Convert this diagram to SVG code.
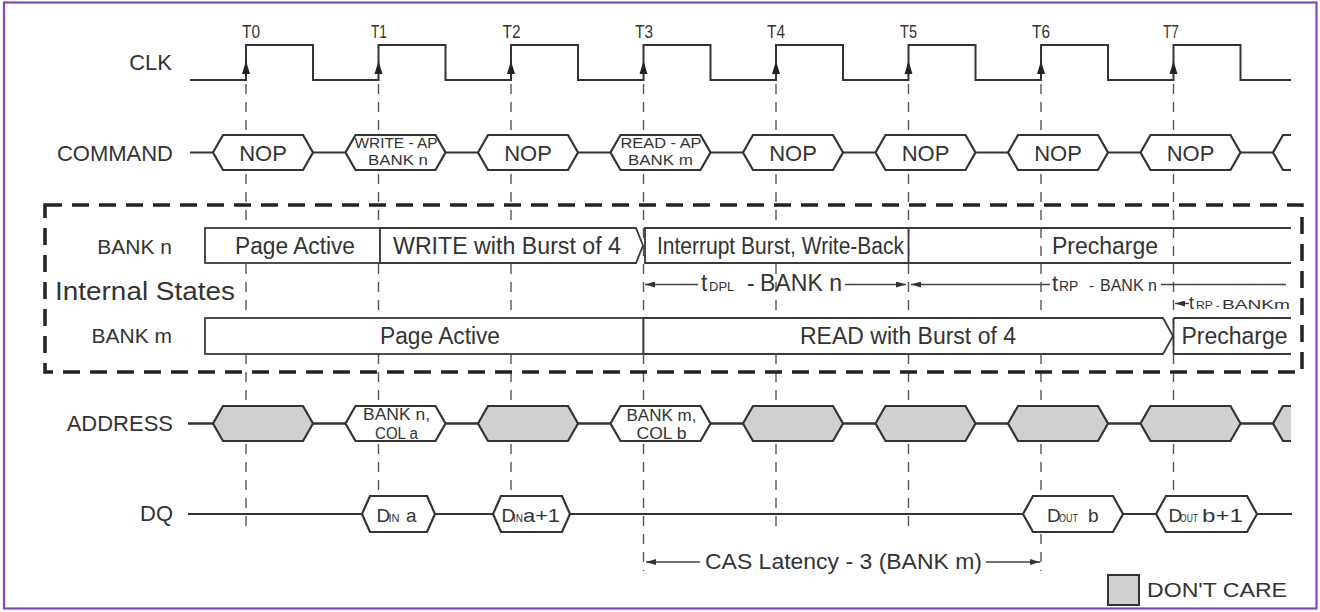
<svg xmlns="http://www.w3.org/2000/svg" width="1320" height="612" viewBox="0 0 1320 612">
<defs>
<style>
text{font-family:"Liberation Sans",Arial,sans-serif;fill:#333}
.sig{fill:none;stroke:#333;stroke-width:2}
.hex{fill:#fff;stroke:#333;stroke-width:2.2;stroke-linejoin:miter}
.hexg{fill:#d0d0d0;stroke:#333;stroke-width:2.2}
.grid{stroke:#555;stroke-width:1.4;stroke-dasharray:10 8;fill:none}
.box{fill:#fff;stroke:#3a3a3a;stroke-width:1.8}
.ln{fill:none;stroke:#3a3a3a;stroke-width:1.8}
.tline{fill:none;stroke:#444;stroke-width:1.4}
.lbl{font-size:22px;text-anchor:end}
.st{font-size:23px}
.tl{font-size:19px;text-anchor:middle}
.clkarr{fill:#222}
</style>
<marker id="arr" viewBox="0 0 10 6" refX="10" refY="3" markerWidth="10" markerHeight="6" markerUnits="userSpaceOnUse" orient="auto-start-reverse">
<path d="M0,0 L10,3 L0,6 Z" fill="#333"/>
</marker>
</defs>
<rect x="0" y="0" width="1320" height="612" fill="#fff"/>
<rect x="4" y="2.5" width="1312.5" height="606" fill="none" stroke="#8244c0" stroke-width="2.2"/>

<g id="gridlines">
<line class="grid" x1="246" y1="84" x2="246" y2="533"/>
<line class="grid" x1="378.5" y1="84" x2="378.5" y2="533"/>
<line class="grid" x1="511" y1="84" x2="511" y2="533"/>
<line class="grid" x1="643.5" y1="84" x2="643.5" y2="571"/>
<line class="grid" x1="776" y1="84" x2="776" y2="533"/>
<line class="grid" x1="908.5" y1="84" x2="908.5" y2="533"/>
<line class="grid" x1="1041" y1="84" x2="1041" y2="571"/>
<line class="grid" x1="1173.5" y1="84" x2="1173.5" y2="533"/>
</g>

<g id="labels">
<text class="lbl" x="172" y="70">CLK</text>
<text class="lbl" x="173" y="161">COMMAND</text>
<text class="lbl" x="172" y="254" style="font-size:21px">BANK n</text>
<text x="55" y="300" style="font-size:26px" textLength="180" lengthAdjust="spacingAndGlyphs">Internal States</text>
<text class="lbl" x="172" y="343" style="font-size:21px">BANK m</text>
<text class="lbl" x="173" y="431">ADDRESS</text>
<text class="lbl" x="173" y="521">DQ</text>
</g>

<g id="clk">
<path class="sig" d="M190,80 H246 V45 H313 V80 H378.5 V45 H445.5 V80 H511 V45 H578 V80 H643.5 V45 H710.5 V80 H776 V45 H843 V80 H908.5 V45 H975.5 V80 H1041 V45 H1108 V80 H1173.5 V45 H1240.5 V80 H1291"/>
<path class="clkarr" d="M246,61 L250,74 L242,74 Z M378.5,61 L382.5,74 L374.5,74 Z M511,61 L515,74 L507,74 Z M643.5,61 L647.5,74 L639.5,74 Z M776,61 L780,74 L772,74 Z M908.5,61 L912.5,74 L904.5,74 Z M1041,61 L1045,74 L1037,74 Z M1173.5,61 L1177.5,74 L1169.5,74 Z"/>
<text class="tl" x="251" y="38" textLength="18" lengthAdjust="spacingAndGlyphs">T0</text>
<text class="tl" x="379" y="38" textLength="16" lengthAdjust="spacingAndGlyphs">T1</text>
<text class="tl" x="511.5" y="38" textLength="18" lengthAdjust="spacingAndGlyphs">T2</text>
<text class="tl" x="644" y="38" textLength="18" lengthAdjust="spacingAndGlyphs">T3</text>
<text class="tl" x="776" y="38" textLength="18" lengthAdjust="spacingAndGlyphs">T4</text>
<text class="tl" x="908.5" y="38" textLength="17" lengthAdjust="spacingAndGlyphs">T5</text>
<text class="tl" x="1041" y="38" textLength="18" lengthAdjust="spacingAndGlyphs">T6</text>
<text class="tl" x="1171" y="38" textLength="16" lengthAdjust="spacingAndGlyphs">T7</text>
</g>

<g id="command">
<line class="sig" x1="190" y1="152.5" x2="1273" y2="152.5"/>
<path class="hex" d="M213,152.5 L223,135 H303 L313,152.5 L303,170 H223 Z"/>
<path class="hex" d="M345.5,152.5 L355.5,135 H435.5 L445.5,152.5 L435.5,170 H355.5 Z"/>
<path class="hex" d="M478,152.5 L488,135 H568 L578,152.5 L568,170 H488 Z"/>
<path class="hex" d="M610.5,152.5 L620.5,135 H700.5 L710.5,152.5 L700.5,170 H620.5 Z"/>
<path class="hex" d="M743,152.5 L753,135 H833 L843,152.5 L833,170 H753 Z"/>
<path class="hex" d="M875.5,152.5 L885.5,135 H965.5 L975.5,152.5 L965.5,170 H885.5 Z"/>
<path class="hex" d="M1008,152.5 L1018,135 H1098 L1108,152.5 L1098,170 H1018 Z"/>
<path class="hex" d="M1140.5,152.5 L1150.5,135 H1230.5 L1240.5,152.5 L1230.5,170 H1150.5 Z"/>
<path class="hex" d="M1291,135 H1283 L1273,152.5 L1283,170 H1291"/>
<g style="font-size:22px" text-anchor="middle">
<text x="263" y="160.5">NOP</text>
<text x="528" y="160.5">NOP</text>
<text x="793" y="160.5">NOP</text>
<text x="925.5" y="160.5">NOP</text>
<text x="1058" y="160.5">NOP</text>
<text x="1190.5" y="160.5">NOP</text>
</g>
<g style="font-size:15px" text-anchor="middle">
<text x="396" y="148" textLength="83" lengthAdjust="spacingAndGlyphs">WRITE - AP</text>
<text x="398" y="165" textLength="60" lengthAdjust="spacingAndGlyphs">BANK n</text>
<text x="661" y="148" textLength="81" lengthAdjust="spacingAndGlyphs">READ - AP</text>
<text x="660.5" y="165" textLength="65" lengthAdjust="spacingAndGlyphs">BANK m</text>
</g>
</g>

<g id="internal-states">
<rect x="45" y="205" width="1257" height="167" fill="none" stroke="#222" stroke-width="3.5" stroke-dasharray="17 10"/>
</g>

<g id="bank-n">
<rect class="box" x="205" y="228" width="175" height="35"/>
<path class="box" d="M380,228 H636 L643,245.5 L636,263 H380 Z"/>
<path class="box" d="M645,228 H908.5 V263 H645 Z"/>
<path class="ln" d="M908.5,228 H1291 M908.5,263 H1291"/>
<text class="st" x="295" y="254" text-anchor="middle" textLength="120" lengthAdjust="spacingAndGlyphs">Page Active</text>
<text class="st" x="393" y="254" textLength="228" lengthAdjust="spacingAndGlyphs">WRITE with Burst of 4</text>
<text class="st" x="657" y="254" textLength="247" lengthAdjust="spacingAndGlyphs">Interrupt Burst, Write-Back</text>
<text class="st" x="1105" y="254" text-anchor="middle">Precharge</text>
</g>

<g id="bank-m">
<rect class="box" x="205" y="318" width="438.5" height="36"/>
<path class="box" d="M643.5,318 H1163 L1173,336 L1163,354 H643.5 Z"/>
<path class="ln" d="M1173.5,318 V354 M1173.5,318 H1291 M1173.5,354 H1291"/>
<text class="st" x="440" y="343.5" text-anchor="middle" textLength="120" lengthAdjust="spacingAndGlyphs">Page Active</text>
<text class="st" x="908" y="343.5" text-anchor="middle">READ with Burst of 4</text>
<text class="st" x="1234.5" y="343.5" text-anchor="middle">Precharge</text>
</g>

<g id="timing-tdpl">
<line class="tline" x1="698" y1="284.5" x2="645" y2="284.5" marker-end="url(#arr)"/>
<line class="tline" x1="845" y1="284.5" x2="906" y2="284.5" marker-end="url(#arr)"/>
<text x="701" y="291"><tspan style="font-size:23px">t</tspan><tspan x="709" style="font-size:13px">DPL</tspan><tspan x="747" style="font-size:23px">-</tspan><tspan x="760" style="font-size:23px" textLength="82" lengthAdjust="spacingAndGlyphs">BANK n</tspan></text>
</g>

<g id="timing-trp-n">
<line class="tline" x1="1050" y1="284.5" x2="911" y2="284.5" marker-end="url(#arr)"/>
<line class="tline" x1="1161" y1="284.5" x2="1286" y2="284.5"/>
<text x="1052" y="291"><tspan style="font-size:22px">t</tspan><tspan x="1059" style="font-size:14px">RP</tspan><tspan x="1089" style="font-size:15px">-</tspan><tspan x="1100" style="font-size:16px" textLength="57" lengthAdjust="spacingAndGlyphs">BANK n</tspan></text>
</g>

<g id="timing-trp-m">
<line class="tline" x1="1189" y1="303.5" x2="1175" y2="303.5" marker-end="url(#arr)"/>
<text x="1189" y="309"><tspan style="font-size:18px">t</tspan><tspan x="1196" style="font-size:11px" textLength="17" lengthAdjust="spacingAndGlyphs">RP</tspan><tspan x="1216" style="font-size:11px">-</tspan><tspan x="1222" style="font-size:12px" textLength="68" lengthAdjust="spacingAndGlyphs">BANKm</tspan></text>
</g>

<g id="address">
<line class="sig" x1="188" y1="423.5" x2="1273" y2="423.5" style="stroke-width:2.4"/>
<path class="hexg" d="M213,423.5 L223,406 H303 L313,423.5 L303,441 H223 Z"/>
<path class="hex" d="M345.5,423.5 L355.5,406 H435.5 L445.5,423.5 L435.5,441 H355.5 Z"/>
<path class="hexg" d="M478,423.5 L488,406 H568 L578,423.5 L568,441 H488 Z"/>
<path class="hex" d="M610.5,423.5 L620.5,406 H700.5 L710.5,423.5 L700.5,441 H620.5 Z"/>
<path class="hexg" d="M743,423.5 L753,406 H833 L843,423.5 L833,441 H753 Z"/>
<path class="hexg" d="M875.5,423.5 L885.5,406 H965.5 L975.5,423.5 L965.5,441 H885.5 Z"/>
<path class="hexg" d="M1008,423.5 L1018,406 H1098 L1108,423.5 L1098,441 H1018 Z"/>
<path class="hexg" d="M1140.5,423.5 L1150.5,406 H1230.5 L1240.5,423.5 L1230.5,441 H1150.5 Z"/>
<path d="M1291,406 H1283 L1273,423.5 L1283,441 H1291 Z" fill="#d0d0d0"/>
<path class="sig" style="stroke-width:2.2" d="M1291,406 H1283 L1273,423.5 L1283,441 H1291"/>
<g style="font-size:16px" text-anchor="middle">
<text x="396.5" y="420" textLength="67" lengthAdjust="spacingAndGlyphs">BANK n,</text>
<text x="396.5" y="438.5" textLength="43" lengthAdjust="spacingAndGlyphs">COL a</text>
<text x="661.5" y="421" textLength="70" lengthAdjust="spacingAndGlyphs">BANK m,</text>
<text x="661.5" y="438.5" textLength="50" lengthAdjust="spacingAndGlyphs">COL b</text>
</g>
</g>

<g id="dq">
<line class="sig" x1="188" y1="514" x2="1292" y2="514"/>
<path class="hex" d="M362,514 L370,496 H427 L435,514 L427,532 H370 Z"/>
<path class="hex" d="M493,514 L501,496 H562 L570,514 L562,532 H501 Z"/>
<path class="hex" d="M1023,514 L1033,496 H1113 L1123,514 L1113,532 H1033 Z"/>
<path class="hex" d="M1156,514 L1166,496 H1247 L1257,514 L1247,532 H1166 Z"/>
<text x="376.5" y="521.5" style="font-size:19px">D<tspan x="388.5" style="font-size:11px">IN</tspan><tspan x="406">a</tspan></text>
<text x="501.5" y="521.5" style="font-size:19px">D<tspan x="513" style="font-size:10px">IN</tspan><tspan x="523" textLength="37" lengthAdjust="spacingAndGlyphs">a+1</tspan></text>
<text x="1047" y="521.5" style="font-size:19px">D<tspan x="1059" style="font-size:11px" textLength="19" lengthAdjust="spacingAndGlyphs">OUT</tspan><tspan x="1088">b</tspan></text>
<text x="1168.5" y="521.5" style="font-size:19px">D<tspan x="1180" style="font-size:11px" textLength="18" lengthAdjust="spacingAndGlyphs">OUT</tspan><tspan x="1202" textLength="41" lengthAdjust="spacingAndGlyphs">b+1</tspan></text>
</g>

<g id="cas-latency">
<line class="tline" x1="700" y1="562" x2="646" y2="562" marker-end="url(#arr)"/>
<line class="tline" x1="986" y1="562" x2="1040" y2="562" marker-end="url(#arr)"/>
<text x="705" y="569" style="font-size:22px" textLength="277" lengthAdjust="spacingAndGlyphs">CAS Latency - 3 (BANK m)</text>
</g>

<g id="legend">
<rect x="1108" y="575" width="31" height="30" fill="#d0d0d0" stroke="#333" stroke-width="2"/>
<text x="1147" y="597" style="font-size:21px" textLength="140" lengthAdjust="spacingAndGlyphs">DON'T CARE</text>
</g>
</svg>
